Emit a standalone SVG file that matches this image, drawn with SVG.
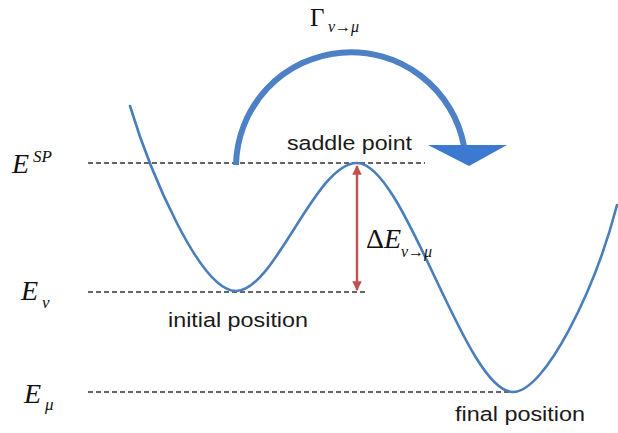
<svg xmlns="http://www.w3.org/2000/svg" width="618" height="433" viewBox="0 0 618 433">
<defs>
<style>
.dash{stroke:#333;stroke-width:1.3;stroke-dasharray:5 3;fill:none}
.curve{stroke:#4a7ebb;stroke-width:2.6;fill:none;stroke-linecap:round}
.math{font-family:"Liberation Serif","Times New Roman",serif;font-style:italic;fill:#111}
.up{font-style:normal}
.sans{font-family:"Liberation Sans",Arial,sans-serif;fill:#1a1a1a}
</style>
<marker id="rh" viewBox="0 0 10 10" refX="9" refY="5" markerWidth="4" markerHeight="4" orient="auto-start-reverse">
<path d="M0,0 L10,5 L0,10 z" fill="#c0504d"/>
</marker>
</defs>
<rect width="618" height="433" fill="#fff"/>
<g id="levels">
<line class="dash" x1="88" y1="163" x2="425" y2="163"/>
<line class="dash" x1="88" y1="292" x2="367" y2="292"/>
<line class="dash" x1="88" y1="392" x2="513" y2="392"/>
</g>
<g id="energy-curve">
<path class="curve" d="M130,106 C150,172 200,291 236,291 C275,291 315,163 357,163 C405,163 465,392 513,392 C545,392 595,290 617,205"/>
</g>
<g id="connectors">
<path d="M236,165 A115,115 0 0 1 464,146" fill="none" stroke="#4d80c4" stroke-width="6"/>
<polygon points="428,145 507,145 469,166" fill="#3b7ad0"/>
<line x1="357" y1="166" x2="357" y2="290" stroke="#c0504d" stroke-width="2.4" marker-start="url(#rh)" marker-end="url(#rh)"/>
</g>
<g id="label-gamma">
<text class="math up" x="310" y="26" font-size="25">Γ</text>
<text class="math" x="328" y="32" font-size="16">ν→μ</text>
</g>
<g id="label-saddle">
<text class="sans" x="287" y="150" font-size="20.5" textLength="125" lengthAdjust="spacingAndGlyphs">saddle point</text>
</g>
<g id="label-initial">
<text class="sans" x="168" y="327" font-size="20.5" textLength="140" lengthAdjust="spacingAndGlyphs">initial position</text>
</g>
<g id="label-final">
<text class="sans" x="455" y="421" font-size="20.5" textLength="130" lengthAdjust="spacingAndGlyphs">final position</text>
</g>
<g id="label-ESP">
<text class="math" x="12" y="173" font-size="28">E</text>
<text class="math" x="33" y="162" font-size="17">SP</text>
</g>
<g id="label-Enu">
<text class="math" x="21" y="300" font-size="28">E</text>
<text class="math" x="42" y="308" font-size="17">ν</text>
</g>
<g id="label-Emu">
<text class="math" x="24" y="403" font-size="28">E</text>
<text class="math" x="45" y="410" font-size="17">μ</text>
</g>
<g id="label-deltaE">
<text class="math" x="366" y="248" font-size="28"><tspan class="up">Δ</tspan>E</text>
<text class="math" x="401" y="257" font-size="16">ν→μ</text>
</g>
</svg>
